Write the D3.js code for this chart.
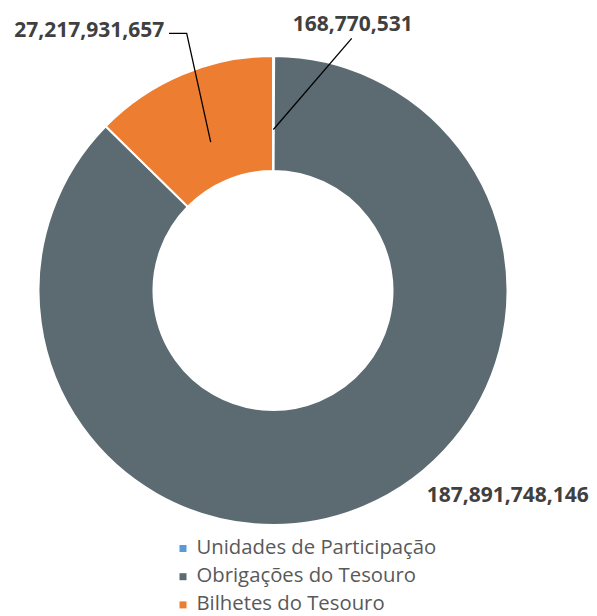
<!DOCTYPE html>
<html>
<head>
<meta charset="utf-8">
<script src="https://cdn.jsdelivr.net/npm/d3@7"></script>
<style>
  html, body { margin: 0; padding: 0; background: #ffffff; }
  svg { display: block; }
</style>
</head>
<body>
<svg id="chart" width="597" height="616"></svg>
<script>
// ---- data ----
const categories = ["Unidades de Participação", "Obrigações do Tesouro", "Bilhetes do Tesouro"];
const values = [168770531, 187891748146, 27217931657];
const labels = ["168,770,531", "187,891,748,146", "27,217,931,657"];
const colors = ["#5B9BD5", "#5C6B72", "#ED7D31"];

// ---- layout ----
const cx = 273, cy = 290.5;
const rOuter = 234.5, rInner = 119.5;
const rLeader = 161;

const svg = d3.select("#chart");
const g = svg.append("g").attr("transform", `translate(${cx},${cy})`);

const pie = d3.pie().sort(null).value(d => d).startAngle(0).endAngle(2 * Math.PI);
const arcs = pie(values);
const arc = d3.arc().innerRadius(rInner).outerRadius(rOuter);

g.selectAll("path.slice")
  .data(arcs)
  .join("path")
  .attr("class", "slice")
  .attr("d", arc)
  .attr("fill", (d, i) => colors[i])
  .attr("stroke", "#ffffff")
  .attr("stroke-width", 2)
  .attr("stroke-linejoin", "round");

const font = "'Open Sans', 'DejaVu Sans', sans-serif";

function pointAt(a, r) {
  const m = (a.startAngle + a.endAngle) / 2;
  return [cx + r * Math.sin(m), cy - r * Math.cos(m)];
}

function fitSize(text, weight, target) {
  const t = svg.append("text").attr("font-family", font).attr("font-weight", weight)
    .attr("font-size", 100).text(text);
  const w = t.node().getComputedTextLength();
  t.remove();
  return 100 * target / w;
}

const labelLayer = svg.append("g");
const labelPos = [
  { x: 292.7, y: 31, anchor: "start" },     // Unidades
  { x: 426.7, y: 502.3, anchor: "start" },  // Obrigações
  { x: 164.3, y: 37.3, anchor: "end" }      // Bilhetes
];
labelLayer.selectAll("text")
  .data(labels)
  .join("text")
  .attr("x", (d, i) => labelPos[i].x)
  .attr("y", (d, i) => labelPos[i].y)
  .attr("text-anchor", (d, i) => labelPos[i].anchor)
  .attr("font-family", font)
  .attr("font-weight", "bold")
  .attr("font-size", 21)
  .attr("fill", "#404040")
  .text(d => d);

// leader lines
const leaders = [
  { idx: 0, pts: [[351.7, 38.3]] },
  { idx: 2, pts: [[169, 33.3], [186.7, 33.3]] }
];
const line = d3.line();
leaders.forEach(l => {
  const pts = l.pts.concat([pointAt(arcs[l.idx], rLeader)]);
  labelLayer.append("path")
    .attr("d", line(pts))
    .attr("fill", "none")
    .attr("stroke", "#000000")
    .attr("stroke-width", 1.3);
});

// legend
const legSize = fitSize(categories[0], "normal", 240);
const legend = svg.append("g");
const rows = legend.selectAll("g").data(categories).join("g")
  .attr("transform", (d, i) => `translate(179.5, ${553.5 + i * 28.2})`);
rows.append("rect")
  .attr("x", 0).attr("y", -8.5).attr("width", 7).attr("height", 7)
  .attr("fill", (d, i) => colors[i]);
rows.append("text")
  .attr("x", 17).attr("y", 0)
  .attr("font-family", font)
  .attr("font-size", legSize)
  .attr("fill", "#595959")
  .text(d => d);
</script>
</body>
</html>
